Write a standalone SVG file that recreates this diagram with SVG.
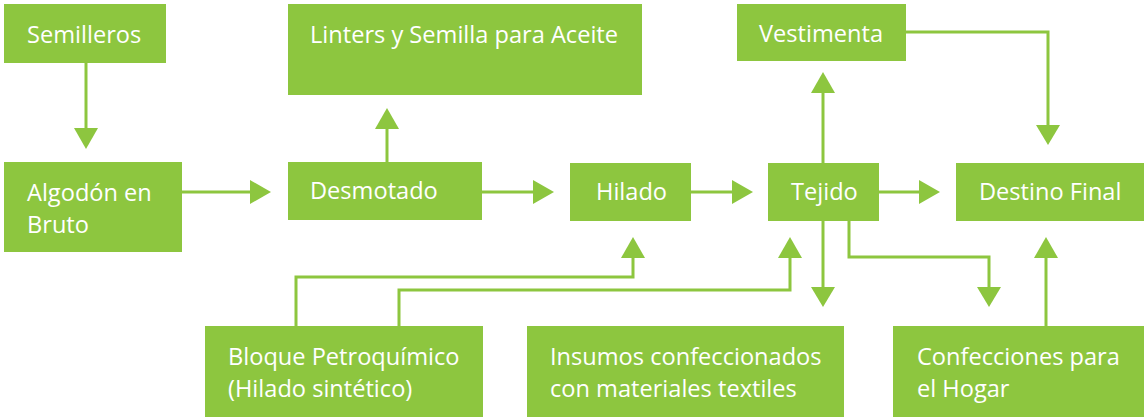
<svg xmlns="http://www.w3.org/2000/svg" width="1144" height="419" viewBox="0 0 1144 419">
<defs>
<style>
.box{fill:#8dc63f}
.t{fill:#fff;font-family:"Open Sans","Liberation Sans",sans-serif;font-size:23.6px}
.c{fill:none;stroke:#8dc63f;stroke-width:3}
.a{fill:#8dc63f}
</style>
</defs>
<rect width="1144" height="419" fill="#fff"/>
<g id="semilleros"><rect class="box" x="4" y="4" width="162" height="59"/><text class="t" x="27" y="43">Semilleros</text></g>
<g id="algodon"><rect class="box" x="4" y="162" width="178" height="90"/><text class="t" x="27" y="201">Algodón en</text><text class="t" x="27" y="233">Bruto</text></g>
<g id="linters"><rect class="box" x="288" y="4" width="354" height="91"/><text class="t" x="310" y="43">Linters y Semilla para Aceite</text></g>
<g id="desmotado"><rect class="box" x="288" y="162" width="194" height="58"/><text class="t" x="310" y="199">Desmotado</text></g>
<g id="hilado"><rect class="box" x="570" y="163" width="121" height="58"/><text class="t" x="596" y="200">Hilado</text></g>
<g id="tejido"><rect class="box" x="768" y="163" width="111" height="58"/><text class="t" x="791" y="200">Tejido</text></g>
<g id="vestimenta"><rect class="box" x="737" y="4" width="169" height="57"/><text class="t" x="759" y="42">Vestimenta</text></g>
<g id="destino"><rect class="box" x="956" y="163" width="188" height="58"/><text class="t" x="979" y="200">Destino Final</text></g>
<g id="bloque"><rect class="box" x="205" y="326" width="278" height="91"/><text class="t" x="228" y="365">Bloque Petroquímico</text><text class="t" x="228" y="397">(Hilado sintético)</text></g>
<g id="insumos"><rect class="box" x="527" y="326" width="317" height="91"/><text class="t" x="550" y="365">Insumos confeccionados</text><text class="t" x="550" y="397">con materiales textiles</text></g>
<g id="confecciones"><rect class="box" x="893" y="326" width="251" height="91"/><text class="t" x="917" y="365">Confecciones para</text><text class="t" x="917" y="397">el Hogar</text></g>
<g id="connectors">
<path class="c" d="M86 63V129"/><path class="a" d="M74 128H98L86 149Z"/>
<path class="c" d="M182 192H251"/><path class="a" d="M250 180V204L271 192Z"/>
<path class="c" d="M387 162V128"/><path class="a" d="M375 129H399L387 108Z"/>
<path class="c" d="M482 192H534"/><path class="a" d="M533 180V204L554 192Z"/>
<path class="c" d="M691 192H733"/><path class="a" d="M732 180V204L753 192Z"/>
<path class="c" d="M823 163V92"/><path class="a" d="M811 93H835L823 72Z"/>
<path class="c" d="M906 32H1048V126"/><path class="a" d="M1036 125H1060L1048 145Z"/>
<path class="c" d="M879 192H920"/><path class="a" d="M919 180V204L940 192Z"/>
<path class="c" d="M296 326V277H633V257"/><path class="a" d="M621 258H645L633 237Z"/>
<path class="c" d="M399 326V290H790V257"/><path class="a" d="M778 258H802L790 237Z"/>
<path class="c" d="M823 221V288"/><path class="a" d="M811 287H835L823 307Z"/>
<path class="c" d="M849 221V257H989V288"/><path class="a" d="M977 287H1001L989 307Z"/>
<path class="c" d="M1046 326V257"/><path class="a" d="M1034 258H1058L1046 237Z"/>
</g>
</svg>
